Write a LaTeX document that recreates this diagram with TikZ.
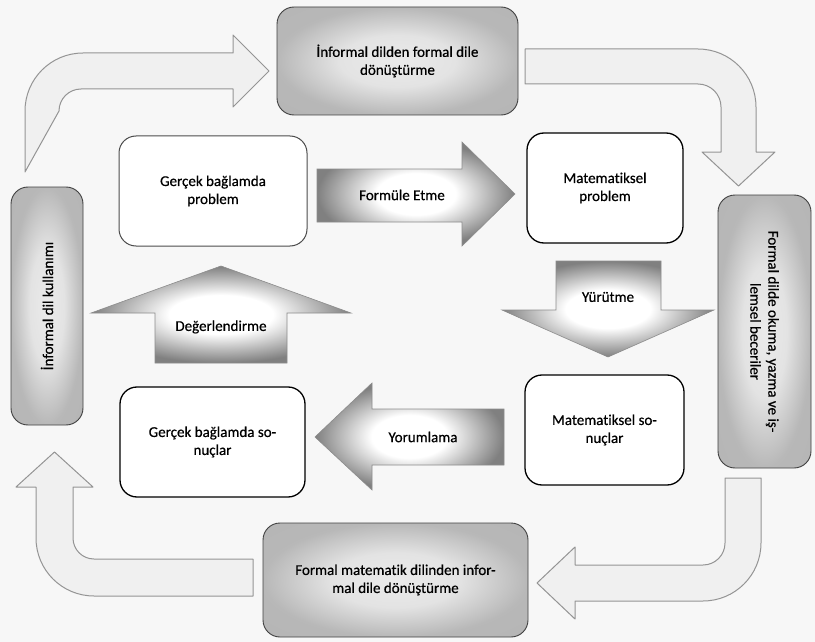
\documentclass[tikz,border=0pt]{standalone}
\usepackage{fontspec}
\setmainfont{Carlito}[FakeBold=0.5, Ligatures=NoCommon]
\pgfdeclareradialshading{flowshade}{\pgfpoint{0bp}{0bp}}{color(0bp)=(white); color(10bp)=(white); color(25bp)=(black!50); color(50bp)=(black!50)}
\pgfdeclareradialshading{boxshade}{\pgfpoint{0bp}{0bp}}{color(0bp)=(black!8); color(12bp)=(black!11); color(25bp)=(black!28); color(50bp)=(black!30)}
\begin{document}
\begin{tikzpicture}[x=1pt,y=1pt,
  txt/.style={font=\fontsize{15}{18}\selectfont, align=center},
  graybox/.style={txt, draw=black!75, line width=0.9pt, rounded corners=17pt,
    shade, shading=boxshade, inner sep=0pt},
  whitebox/.style={txt, draw=black, line width=1.3pt, rounded corners=17pt,
    fill=white, inner sep=0pt},
  looparrow/.style={fill=black!6, draw=black!42, line width=1pt, line join=round},
  flowarrow/.style={draw=black!45, line width=0.6pt, line join=miter,
    shade, shading=flowshade},
  lbl/.style={txt, inner sep=0pt}]
\useasboundingbox (0,0) rectangle (815,-642);
\fill[black!3] (0,0) rectangle (815,-642);

% outer gray boxes
\node[graybox, minimum width=241pt, minimum height=108pt] (topb) at (397.5,-61)
  {İnformal dilden formal dile\\dönüştürme};
\node[graybox, rotate=90, minimum width=238pt, minimum height=72pt] (leftb) at (47,-306)
  {İnformal dil kullanımı};
\node[graybox, rotate=-90, minimum width=273pt, minimum height=93pt] (rightb) at (764.5,-331.5)
  {Formal dilde okuma, yazma ve iş-\\lemsel beceriler};
\node[graybox, minimum width=265pt, minimum height=114pt] (botb) at (395.5,-580)
  {Formal matematik dilinden infor-\\mal dile dönüştürme};

% inner white boxes
\node[whitebox, draw=black!70, line width=1pt, minimum width=188pt, minimum height=110pt] (gp) at (213,-191)
  {Gerçek bağlamda\\problem};
\node[whitebox, minimum width=156pt, minimum height=110pt] (mp) at (605,-188)
  {Matematiksel\\problem};
\node[whitebox, minimum width=159pt, minimum height=110pt] (ms) at (604.5,-430)
  {Matematiksel so-\\nuçlar};
\node[whitebox, minimum width=185pt, minimum height=110pt] (gs) at (212.5,-442)
  {Gerçek bağlamda so-\\nuçlar};

% loop arrows
\path[looparrow] (25,-172) -- (25,-111) arc[start angle=180,end angle=90,radius=58]
  -- (233,-53) -- (233,-35) -- (269,-71) -- (233,-107) -- (233,-89) -- (81,-89)
  arc[start angle=90,end angle=180,radius=22] -- cycle;
\path[looparrow] (525,-49) -- (698,-49) arc[start angle=90,end angle=0,radius=58]
  -- (756,-152) -- (775,-152) -- (738.5,-186) -- (702,-152) -- (721,-152) -- (721,-107)
  arc[start angle=0,end angle=90,radius=23] -- (525,-84) -- cycle;
\path[looparrow] (725,-478) -- (761,-478) -- (761,-543) arc[start angle=0,end angle=-90,radius=58]
  -- (575,-601) -- (575,-619) -- (537,-583) -- (575,-547) -- (575,-565) -- (703,-565)
  arc[start angle=-90,end angle=0,radius=22] -- cycle;
\path[looparrow] (253,-559) -- (253,-596) -- (94,-596) arc[start angle=270,end angle=180,radius=58]
  -- (36,-487) -- (16,-487) -- (54.5,-452) -- (93,-487) -- (73,-487) -- (73,-538)
  arc[start angle=180,end angle=270,radius=21] -- cycle;

% inner flow arrows
\path[flowarrow] (317,-169) -- (462,-169) -- (462,-142) -- (515,-194) -- (462,-246)
  -- (462,-222) -- (317,-222) -- cycle;
\path[flowarrow] (556,-261) -- (661,-261) -- (661,-310) -- (714,-310) -- (608,-357)
  -- (502,-310) -- (556,-310) -- cycle;
\path[flowarrow] (504,-409) -- (372,-409) -- (372,-383) -- (315,-437) -- (372,-490)
  -- (372,-465) -- (504,-465) -- cycle;
\path[flowarrow] (155,-363) -- (155,-313) -- (91,-313) -- (221,-266) -- (351,-313)
  -- (287,-313) -- (287,-363) -- cycle;

\node[lbl] (fe) at (402,-195) {Formüle Etme};
\node[lbl] (yu) at (608,-297) {Yürütme};
\node[lbl] (yo) at (423,-437) {Yorumlama};
\node[lbl] (de) at (221,-327) {Değerlendirme};
\end{tikzpicture}
\end{document}
